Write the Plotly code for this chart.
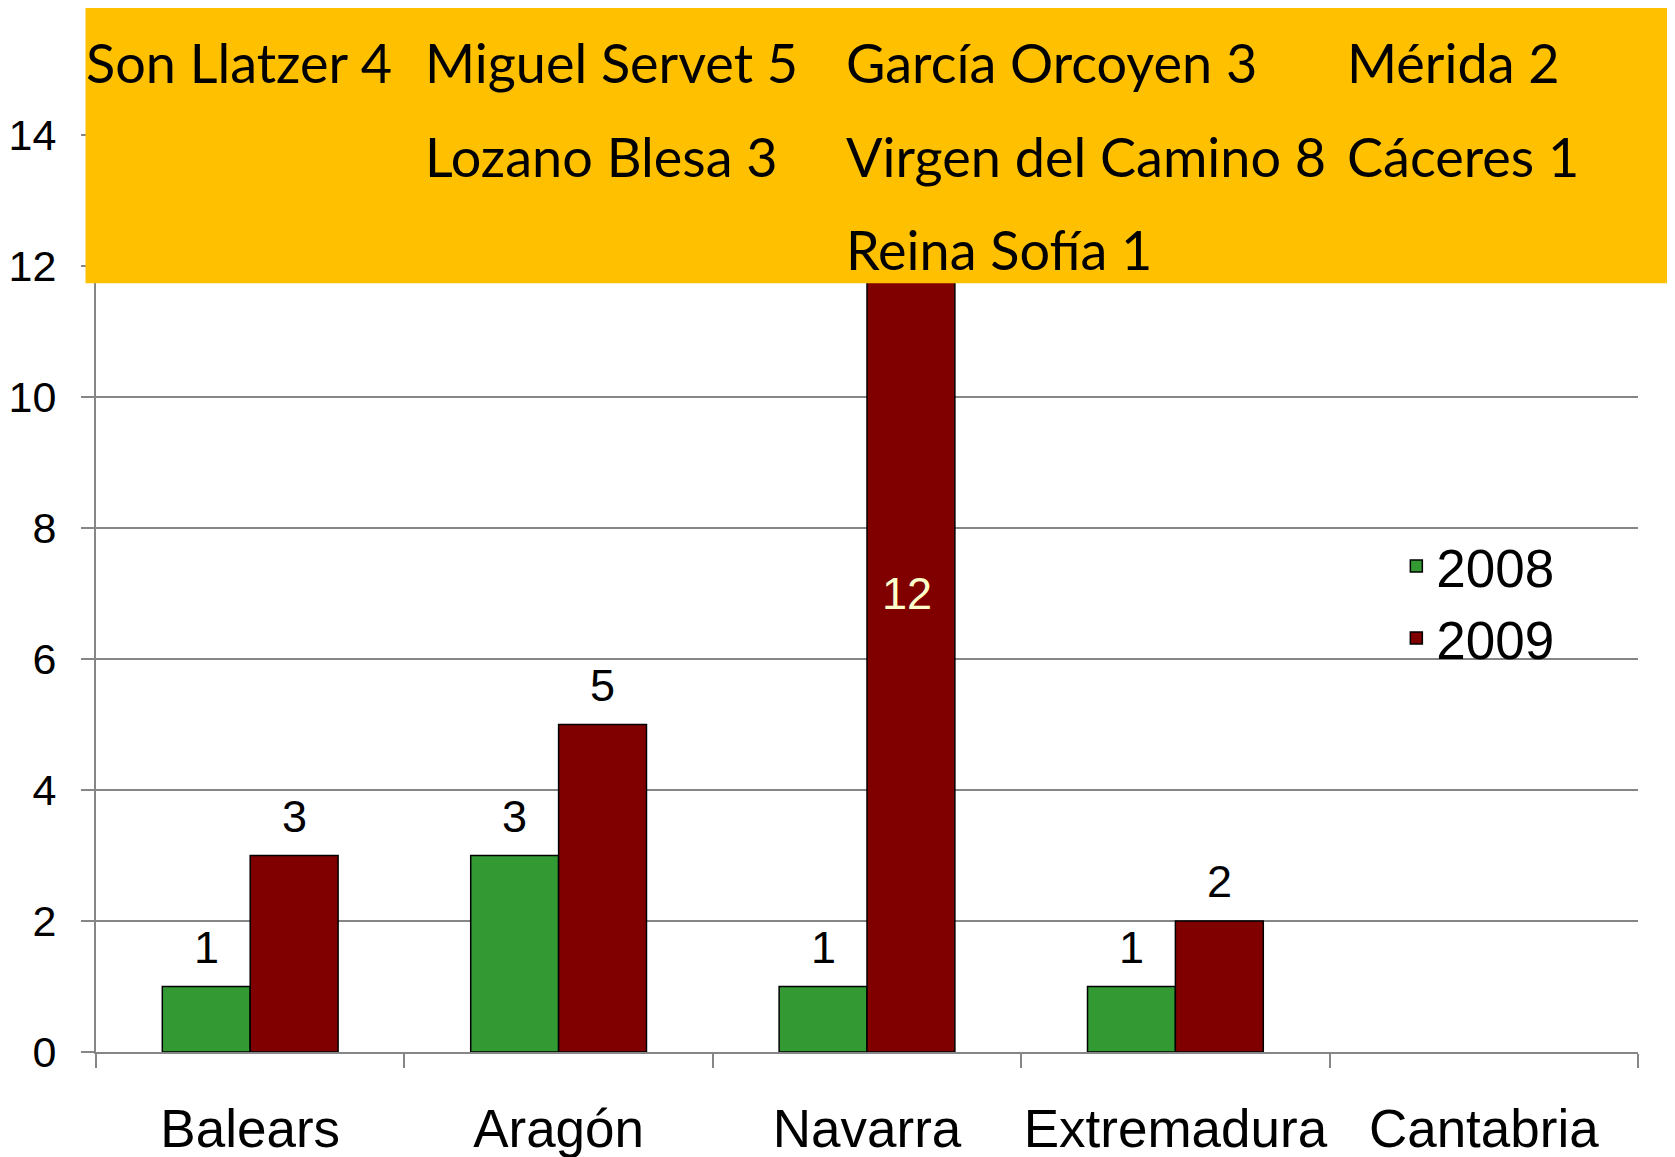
import plotly.graph_objects as go

categories = ["Balears", "Aragón", "Navarra", "Extremadura", "Cantabria"]
values_2008 = [1, 3, 1, 1, None]
values_2009 = [3, 5, 12, 2, None]
labels_2008 = ["1", "3", "1", "1", ""]
labels_2009 = ["3", "5", "", "2", ""]
inside_label = {"category": "Navarra", "text": "12", "y": 7}
y_ticks = [0, 2, 4, 6, 8, 10, 12, 14]

box_rows = [
    ["Son Llatzer 4", "Miguel Servet 5", "García Orcoyen 3", "Mérida 2"],
    ["", "Lozano Blesa 3", "Virgen del Camino 8", "Cáceres 1"],
    ["", "", "Reina Sofía 1", ""],
]

# page body has an 8px margin: the figure starts at page (8, 8)
OFF = 8
W, H = 1675, 1157 - OFF
ML, MT = 96 - OFF, 134.7 - OFF
MR = W - (1637.6 - OFF)
MB = H - (1052 - OFF)
PW = W - ML - MR
PH = H - MT - MB

def px_x(p):  # page pixel -> paper
    return (p - OFF - ML) / PW

def px_y(p):
    return (H - MB - (p - OFF)) / PH

GRAY = "#868686"
LABEL_FAMILY = "Liberation Sans, Arial"
BAR_HALF_PX = 44

fig = go.Figure()
fig.add_trace(go.Bar(
    name="2008", x=categories, y=values_2008,
    marker=dict(color="#339933", line=dict(color="black", width=1.5)),
))
fig.add_trace(go.Bar(
    name="2009", x=categories, y=values_2009,
    marker=dict(color="#800000", line=dict(color="black", width=1.5)),
))

# value labels above bars
for vals, labs, shift in ((values_2008, labels_2008, -BAR_HALF_PX),
                          (values_2009, labels_2009, BAR_HALF_PX)):
    for cat, v, lab in zip(categories, vals, labs):
        if v is None or not lab:
            continue
        fig.add_annotation(
            x=cat, y=v, xref="x", yref="y", text=lab, showarrow=False,
            xshift=shift, yanchor="bottom", yshift=12,
            font=dict(family=LABEL_FAMILY, size=45, color="black"),
        )

fig.add_annotation(
    x=inside_label["category"], y=inside_label["y"], xref="x", yref="y",
    text=inside_label["text"], showarrow=False, xshift=40,
    font=dict(family=LABEL_FAMILY, size=45, color="#FFFFCC"),
)

# orange box
fig.add_shape(type="rect", xref="paper", yref="paper", layer="above",
              x0=px_x(85.5), x1=px_x(1690), y0=px_y(283), y1=px_y(5.5),
              fillcolor="#FFC000", line=dict(width=0))

col_x = [84, 423, 844, 1345]
row_y = [62, 156, 249]
for r, row in enumerate(box_rows):
    for c, txt in enumerate(row):
        if not txt:
            continue
        fig.add_annotation(
            x=px_x(col_x[c]), y=px_y(row_y[r]), xref="paper", yref="paper",
            xanchor="left", yanchor="middle", showarrow=False, text=txt,
            font=dict(family="Lato", size=54, color="black"),
        )

fig.update_layout(
    width=W, height=H,
    margin=dict(l=ML, r=MR, t=MT, b=MB, pad=0, autoexpand=False),
    paper_bgcolor="white", plot_bgcolor="white",
    barmode="group", bargap=0.43, bargroupgap=0,
    showlegend=True,
    legend=dict(x=px_x(1396), y=px_y(525), xanchor="left", yanchor="top",
                font=dict(family=LABEL_FAMILY, size=53, color="black"),
                bgcolor="rgba(0,0,0,0)", itemwidth=30, tracegroupgap=0),
    font=dict(family=LABEL_FAMILY, color="black"),
)
fig.update_xaxes(
    showline=True, linecolor=GRAY, linewidth=2, automargin=False, tickangle=0,
    ticks="outside", tickson="boundaries", ticklen=14, tickcolor=GRAY, tickwidth=1.5,
    tickfont=dict(family=LABEL_FAMILY, size=53, color="black"),
    ticklabelstandoff=29, showgrid=False,
)
fig.update_yaxes(
    range=[0, 14], tickvals=y_ticks, automargin=False,
    showline=True, linecolor=GRAY, linewidth=2,
    ticks="outside", ticklen=13, tickcolor=GRAY, tickwidth=1.5,
    tickfont=dict(family=LABEL_FAMILY, size=43, color="black"),
    ticklabelstandoff=16,
    showgrid=True, gridcolor=GRAY, gridwidth=1.5, zeroline=False,
)

fig.write_html("out.html")
